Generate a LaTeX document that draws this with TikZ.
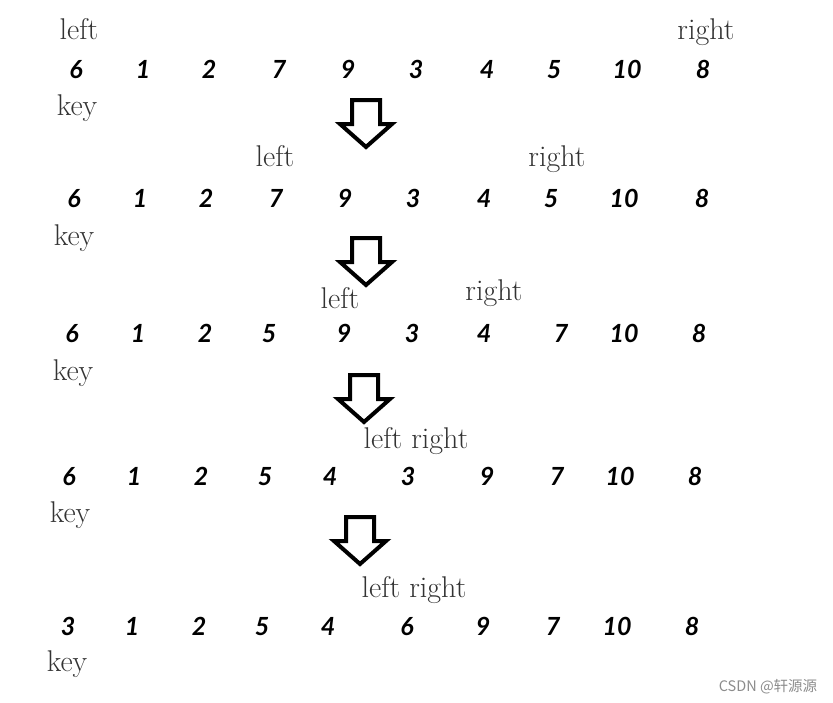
\documentclass[tikz,border=0pt]{standalone}
\usepackage{fontspec}
\newfontfamily\digitfont{Lato}
\newfontfamily\cjkfont{Noto Sans CJK SC}
\begin{document}
\begin{tikzpicture}[x=1pt,y=-1pt,
  num/.style={anchor=base,inner sep=0pt,font=\digitfont\itshape\bfseries\fontsize{25}{25}\selectfont},
  lbl/.style={anchor=base,inner sep=0pt,text=black!80,font=\fontsize{30}{30}\selectfont},
  downarr/.pic={\draw[line width=4pt,line join=miter,fill=white]
     (-14,0) -- (14,0) -- (14,24) -- (26,24) -- (0,47) -- (-26,24) -- (-14,24) -- cycle;}
]
\useasboundingbox (0,0) rectangle (833,702);
% row 1
\node[lbl] (l1) at (79,39) {left};
\node[lbl] (r1) at (706,39) {right};
\node[lbl] (k1) at (77,115) {key};
\foreach \x/\d [count=\i] in {76/6,143/1,209/2,279/7,348/9,416/3,487/4,554/5,627/10,703/8}
  \node[num] (a\i) at (\x,78) {\d};
\pic at (366,100) {downarr};
% row 2
\node[lbl] (l2) at (275,166) {left};
\node[lbl] (r2) at (557,166) {right};
\node[lbl] (k2) at (74,245) {key};
\foreach \x/\d [count=\i] in {74/6,140/1,206/2,276/7,345/9,413/3,484/4,551/5,624/10,702/8}
  \node[num] (b\i) at (\x,207) {\d};
\pic at (366,238) {downarr};
% row 3
\node[lbl] (l3) at (340,308) {left};
\node[lbl] (r3) at (494,300) {right};
\node[lbl] (k3) at (73,380) {key};
\foreach \x/\d [count=\i] in {72/6,138/1,205/2,269/5,344/9,412/3,484/4,561/7,624/10,699/8}
  \node[num] (c\i) at (\x,342) {\d};
\pic at (364,375) {downarr};
% row 4
\node[lbl] (lr4) at (416,448) {left right};
\node[lbl] (k4) at (70,522) {key};
\foreach \x/\d [count=\i] in {69/6,134/1,201/2,265/5,330/4,408/3,487/9,557/7,620/10,695/8}
  \node[num] (d\i) at (\x,485) {\d};
\pic at (360,517) {downarr};
% row 5
\node[lbl] (lr5) at (414,597) {left right};
\node[lbl] (k5) at (67,671) {key};
\foreach \x/\d [count=\i] in {68/3,132/1,199/2,262/5,328/4,407/6,483/9,553/7,617/10,692/8}
  \node[num] (e\i) at (\x,635) {\d};
% watermark
\node[anchor=base,inner sep=0pt,text=black!45,font=\cjkfont\fontsize{14.5}{14.5}\selectfont] (wm) at (768,691) {CSDN @轩源源};
\end{tikzpicture}
\end{document}
